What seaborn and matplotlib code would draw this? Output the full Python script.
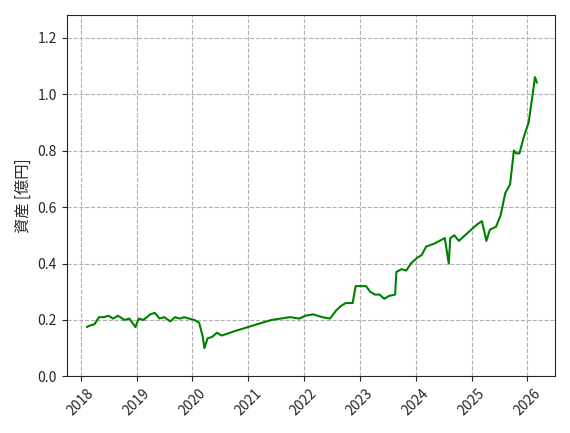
import pandas as pd
import matplotlib.pyplot as plt
import seaborn as sns

dates = ["2018-02-10", "2018-03-01", "2018-04-01", "2018-05-01", "2018-06-01", "2018-07-01",
         "2018-08-01", "2018-09-01", "2018-10-15", "2018-11-15", "2018-12-25", "2019-01-15",
         "2019-02-15", "2019-04-01", "2019-05-01", "2019-06-01", "2019-07-01", "2019-08-10",
         "2019-09-10", "2019-10-10", "2019-11-10", "2019-12-10", "2020-01-15", "2020-02-15",
         "2020-03-10", "2020-03-20", "2020-04-10", "2020-05-10", "2020-06-10", "2020-07-10",
         "2020-08-10", "2020-10-01", "2020-12-01", "2021-03-01", "2021-06-01", "2021-08-01",
         "2021-10-01", "2021-12-01", "2022-01-10", "2022-03-01", "2022-05-01", "2022-06-20",
         "2022-08-01", "2022-09-01", "2022-10-01", "2022-11-15", "2022-12-05", "2023-01-10",
         "2023-02-10", "2023-03-10", "2023-04-10", "2023-05-10", "2023-06-10", "2023-07-10",
         "2023-08-20", "2023-08-28", "2023-10-01", "2023-11-01", "2023-12-01", "2024-01-10",
         "2024-02-10", "2024-03-10", "2024-05-01", "2024-07-10", "2024-08-05", "2024-08-15",
         "2024-09-10", "2024-10-10", "2024-12-10", "2025-02-10", "2025-03-10", "2025-04-08",
         "2025-05-01", "2025-06-10", "2025-07-10", "2025-08-10", "2025-09-10", "2025-10-05",
         "2025-10-20", "2025-11-10", "2025-12-10", "2026-01-10", "2026-02-05", "2026-02-20",
         "2026-03-05"]
assets = [0.175, 0.18, 0.185, 0.21, 0.21, 0.215,
          0.205, 0.215, 0.20, 0.205, 0.175, 0.205,
          0.20, 0.22, 0.225, 0.205, 0.21, 0.195,
          0.21, 0.205, 0.21, 0.205, 0.20, 0.19,
          0.14, 0.10, 0.135, 0.14, 0.155, 0.145,
          0.15, 0.16, 0.17, 0.185, 0.20, 0.205,
          0.21, 0.205, 0.215, 0.22, 0.21, 0.205,
          0.235, 0.25, 0.26, 0.26, 0.32, 0.32,
          0.32, 0.30, 0.29, 0.29, 0.275, 0.285,
          0.29, 0.37, 0.38, 0.375, 0.40, 0.42,
          0.43, 0.46, 0.47, 0.49, 0.40, 0.49,
          0.50, 0.48, 0.51, 0.54, 0.55, 0.48,
          0.52, 0.53, 0.57, 0.65, 0.68, 0.80,
          0.79, 0.79, 0.85, 0.90, 1.00, 1.06,
          1.04]

df = pd.DataFrame({"date": pd.to_datetime(dates), "assets": assets})

sns.set_style("ticks")
plt.rcParams['font.family'] = ['Noto Sans CJK JP', 'DejaVu Sans']

fig, ax = plt.subplots(figsize=(5.7, 4.33), dpi=100)
sns.lineplot(data=df, x="date", y="assets", color="green", linewidth=1.5, ax=ax)

ax.set_ylim(0, 1.28)
ax.set_xlim(pd.Timestamp("2017-10-01"), pd.Timestamp("2026-07-01"))
ax.set_xlabel("")
ax.set_ylabel("資産 [億円]", fontsize=11)
ax.grid(True, linestyle="--", color="#b0b0b0")
plt.setp(ax.get_xticklabels(), rotation=45)

plt.tight_layout()
plt.savefig("out.png", dpi=100)
plt.close()
